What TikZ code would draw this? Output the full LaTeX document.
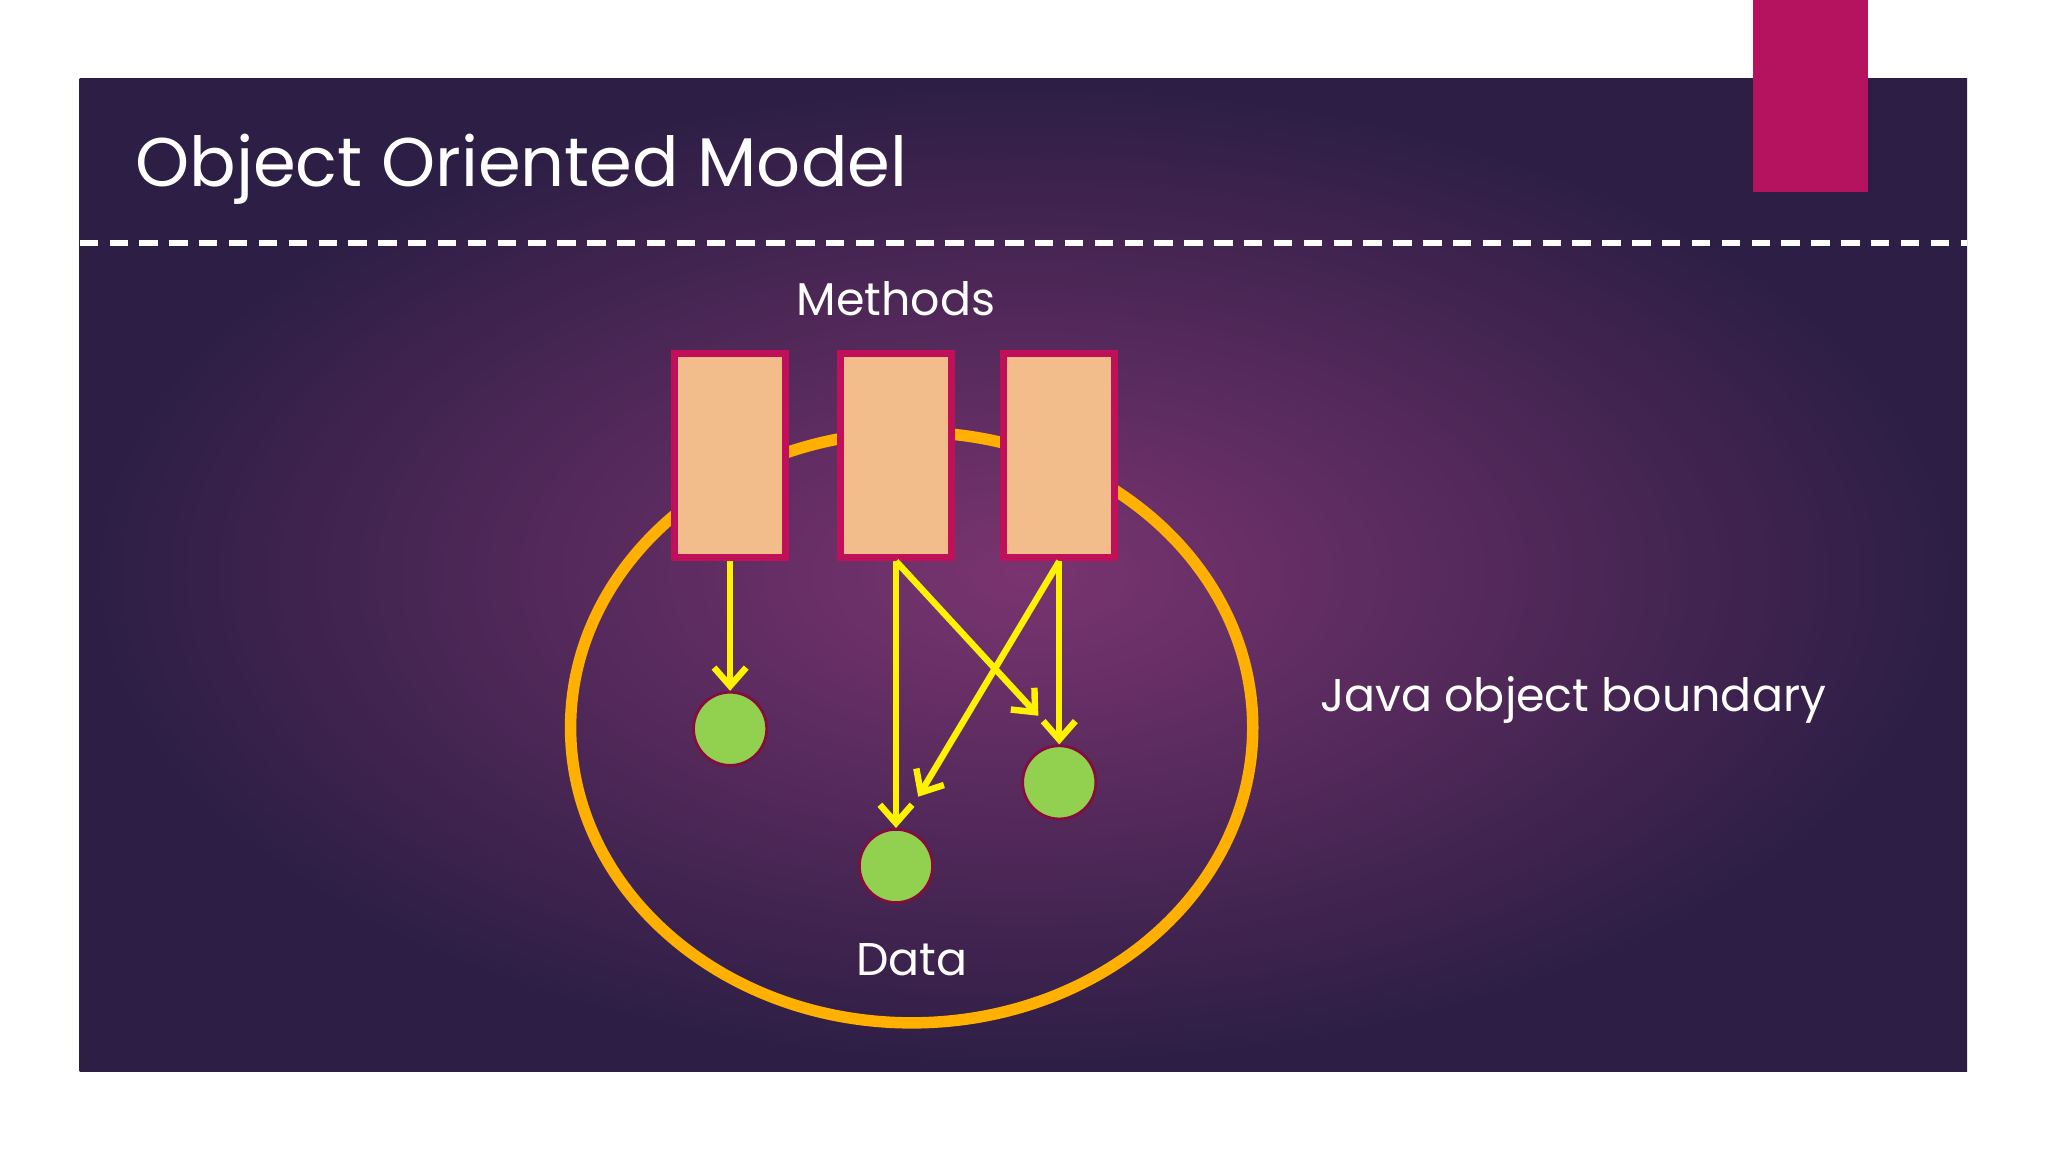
\documentclass[tikz,border=0pt]{standalone}
\usepackage{fontspec}
\setmainfont{Poppins}
\usetikzlibrary{shapes.geometric,arrows.meta}
\definecolor{slidedark}{HTML}{2C1E44}
\definecolor{slidemid}{HTML}{7A3470}
\definecolor{tab}{HTML}{B5135F}
\definecolor{orng}{HTML}{FFB000}
\definecolor{peach}{HTML}{F2BD8A}
\definecolor{rborder}{HTML}{C0105A}
\definecolor{grn}{HTML}{92D050}
\tikzset{
  meth/.style={draw=rborder,line width=1.5pt,fill=peach,minimum width=0.85cm,minimum height=1.56cm,inner sep=0},
  dat/.style={circle,draw=rborder!70!black,line width=0.6pt,fill=grn,minimum size=0.56cm,inner sep=0},
  arr/.style={draw=yellow,line width=1.4pt,-{Straight Barb[length=4pt,width=7pt]}},
  lbl/.style={text=white,font=\fontsize{10}{12}\selectfont}
}
\begin{document}
\begin{tikzpicture}[x=0.01cm,y=-0.01cm]
\useasboundingbox (0,0) rectangle (1568,882);
\fill[white] (0,0) rectangle (1568,882);
\path[inner color=slidemid,outer color=slidedark] (61,60) rectangle (1506,820);
\fill[tab] (1342,0) rectangle (1430,147);
\node[anchor=base west,text=white,font=\fontsize{15}{18}\selectfont,inner sep=0] (title) at (103,143) {Object Oriented Model};
\draw[white,line width=1.3pt,dash pattern=on 4pt off 2.5pt] (61,186) -- (1506,186);
\node[lbl] (methods) at (686,229) {Methods};
\node[ellipse,draw=orng,line width=2.5pt,minimum width=5.22cm,minimum height=4.52cm] (bound) at (698,557) {};
\node[meth] (m1) at (559,349) {};
\node[meth] (m2) at (686,349) {};
\node[meth] (m3) at (811,349) {};
\node[dat] (d1) at (559,558) {};
\node[dat] (d2) at (686,663) {};
\node[dat] (d3) at (811,599) {};
\coordinate (e2) at (795,548);
\coordinate (e3) at (703,610);
\draw[arr] (m1.south) -- (d1.north);
\draw[arr] (m2.south) -- (d2.north);
\draw[arr] (m2.south) -- (e2);
\draw[arr] (m3.south) -- (d3.north);
\draw[arr] (m3.south) -- (e3);
\node[lbl,anchor=west,inner sep=0] (java) at (1010,536) {Java object boundary};
\node[lbl] (data) at (698,735) {Data};
\end{tikzpicture}
\end{document}
